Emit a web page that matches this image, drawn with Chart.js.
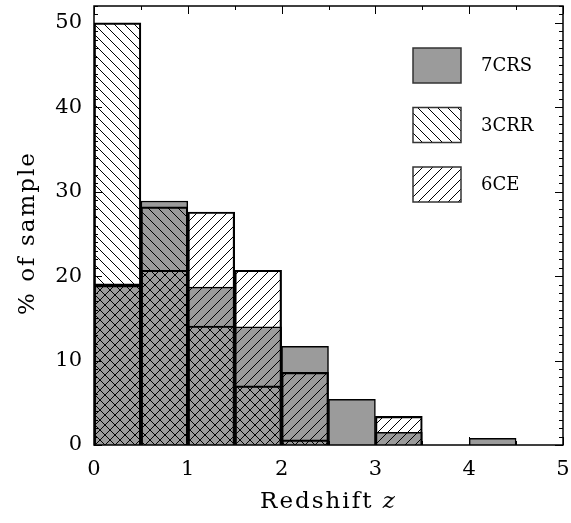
<!DOCTYPE html>
<html>
<head>
<meta charset="utf-8">
<script src="https://cdn.jsdelivr.net/npm/chart.js@4"></script>
<style>
  body { margin: 0; background: #fff; }
</style>
</head>
<body>
<canvas id="chart" width="571" height="523"></canvas>
<script>
// histogram bins of width 0.5 in redshift, values in % of sample
const binCentres = [0.25, 0.75, 1.25, 1.75, 2.25, 2.75, 3.25, 3.75, 4.25, 4.75];
const pct7CRS = [19.1, 28.9, 18.7, 14.0, 11.7, 5.4, 1.5, 0, 0.8, 0];
const pct3CRR = [50.0, 28.2, 14.1, 7.0, 0.6, 0, 0, 0, 0, 0];
const pct6CE  = [18.9, 20.7, 27.6, 20.7, 8.6, 0, 3.4, 0, 0, 0];
const xTicks = [0, 1, 2, 3, 4, 5];
const yTicks = [0, 10, 20, 30, 40, 50];

const FONT = "'DejaVu Serif', serif";
const GREY = '#9b9b9b';

const ctx = document.getElementById('chart').getContext('2d');

function hatch(dir, bg) {
  const s = 10;
  const c = document.createElement('canvas');
  c.width = s; c.height = s;
  const g = c.getContext('2d');
  if (bg) { g.fillStyle = bg; g.fillRect(0, 0, s, s); }
  g.strokeStyle = '#000';
  g.lineWidth = 1;
  g.beginPath();
  if (dir === '\\') {
    g.moveTo(0, 0); g.lineTo(s, s);
    g.moveTo(s - 1, -1); g.lineTo(s + 1, 1);
    g.moveTo(-1, s - 1); g.lineTo(1, s + 1);
  } else {
    g.moveTo(0, s); g.lineTo(s, 0);
    g.moveTo(-1, 1); g.lineTo(1, -1);
    g.moveTo(s - 1, s + 1); g.lineTo(s + 1, s - 1);
  }
  g.stroke();
  return ctx.createPattern(c, 'repeat');
}

function toPoints(vals) {
  return vals.map((v, i) => ({x: binCentres[i], y: v > 0 ? v : null}));
}

const legendFills = [GREY, hatch('\\', '#fff'), hatch('/', '#fff')];

const frame = {
  id: 'frame',
  afterDatasetsDraw(chart) {
    const {ctx, chartArea: a, scales} = chart;
    ctx.save();
    ctx.strokeStyle = '#000';
    ctx.lineWidth = 1.5;
    ctx.strokeRect(a.left, a.top, a.right - a.left, a.bottom - a.top);
    ctx.lineWidth = 1;
    ctx.beginPath();
    for (let v = 0; v <= 5.001; v += 0.5) {
      const x = Math.round(scales.x.getPixelForValue(v)) + 0.5;
      const len = Math.abs(v - Math.round(v)) < 1e-6 ? 8 : 4;
      ctx.moveTo(x, a.bottom); ctx.lineTo(x, a.bottom - len);
      ctx.moveTo(x, a.top); ctx.lineTo(x, a.top + len);
    }
    for (let v = 0; v <= 52; v += 1) {
      const y = Math.round(scales.y.getPixelForValue(v)) + 0.5;
      const len = v % 10 === 0 ? 8 : 4;
      ctx.moveTo(a.left, y); ctx.lineTo(a.left + len, y);
      ctx.moveTo(a.right, y); ctx.lineTo(a.right - len, y);
    }
    ctx.stroke();
    ctx.restore();
  },
  afterDraw(chart) {
    const {ctx, chartArea: a} = chart;
    ctx.save();
    // legend
    chart.data.datasets.forEach((ds, i) => {
      const bx = 413, by = 48 + i * 59.5, bw = 48, bh = 35;
      ctx.fillStyle = '#fff';
      ctx.fillRect(bx, by, bw, bh);
      ctx.fillStyle = legendFills[i];
      ctx.fillRect(bx, by, bw, bh);
      ctx.strokeStyle = '#333';
      ctx.lineWidth = 1.5;
      ctx.strokeRect(bx, by, bw, bh);
      ctx.fillStyle = '#000';
      ctx.font = '18px ' + FONT;
      ctx.textBaseline = 'middle';
      ctx.textAlign = 'left';
      ctx.fillText(ds.label, bx + 68, by + bh / 2 + 1);
    });
    // x title with italic z
    ctx.letterSpacing = '2px';
    ctx.textBaseline = 'alphabetic';
    ctx.font = '23px ' + FONT;
    const t1 = 'Redshift ';
    const w1 = ctx.measureText(t1).width;
    ctx.font = 'italic 23px ' + FONT;
    const w2 = ctx.measureText('z').width;
    let x0 = (a.left + a.right) / 2 - (w1 + w2) / 2;
    ctx.font = '23px ' + FONT;
    ctx.fillText(t1, x0, 508);
    ctx.font = 'italic 23px ' + FONT;
    ctx.fillText('z', x0 + w1, 508);
    // y title
    ctx.translate(34, 233);
    ctx.rotate(-Math.PI / 2);
    ctx.font = '23px ' + FONT;
    ctx.textAlign = 'center';
    ctx.fillText('% of sample', 0, 0);
    ctx.restore();
  }
};

function noPad(s) {
  s.paddingTop = 0; s.paddingBottom = 0;
  s.paddingLeft = 0; s.paddingRight = 0;
}

new Chart(ctx, {
  type: 'bar',
  data: {
    datasets: [{
      label: '7CRS',
      data: toPoints(pct7CRS),
      backgroundColor: GREY,
      borderColor: '#000',
      borderWidth: 1.5,
      order: 3
    }, {
      label: '3CRR',
      data: toPoints(pct3CRR),
      backgroundColor: hatch('\\'),
      borderColor: '#000',
      borderWidth: 1.5,
      order: 2
    }, {
      label: '6CE',
      data: toPoints(pct6CE),
      backgroundColor: hatch('/'),
      borderColor: '#000',
      borderWidth: 1.5,
      order: 1
    }]
  },
  options: {
    responsive: false,
    animation: false,
    layout: {padding: {top: 6, right: 8, left: 0, bottom: 0}},
    plugins: {legend: {display: false}, tooltip: {enabled: false}},
    datasets: {bar: {barPercentage: 1, categoryPercentage: 1, grouped: false}},
    scales: {
      x: {
        type: 'linear',
        min: 0,
        max: 5,
        offset: false,
        grid: {display: false, drawTicks: false},
        border: {display: false},
        afterBuildTicks: s => { s.ticks = xTicks.map(v => ({value: v})); },
        afterFit: s => { s.height = 78; noPad(s); },
        ticks: {color: '#000', padding: 12, maxRotation: 0, font: {family: FONT, size: 21}}
      },
      y: {
        min: 0,
        max: 52,
        grid: {display: false, drawTicks: false},
        border: {display: false},
        afterBuildTicks: s => { s.ticks = yTicks.map(v => ({value: v})); },
        afterFit: s => { s.width = 94; noPad(s); },
        ticks: {color: '#000', padding: 12, font: {family: FONT, size: 21}}
      }
    }
  },
  plugins: [frame]
});
</script>
</body>
</html>
